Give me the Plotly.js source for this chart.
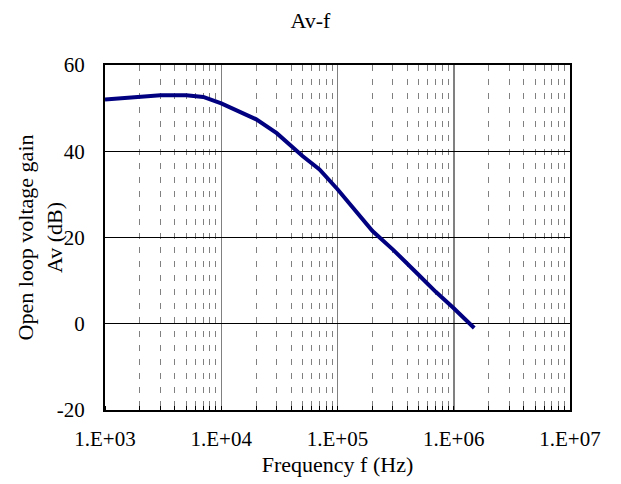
<!DOCTYPE html>
<html><head><meta charset="utf-8">
<script src="https://cdn.plot.ly/plotly-3.0.1.min.js"></script>
<style>body{margin:0;background:#fff}#c{width:621px;height:484px}</style>
</head><body><div id="c"></div>
<script>
const freq = [1e3, 3e3, 5e3, 7e3, 1e4, 2e4, 3e4, 5e4, 7e4, 1e5, 2e5, 3e5, 5e5, 7e5, 1e6, 1.5e6];
const gain = [52, 53, 53, 52.6, 51.1, 47.4, 44.2, 38.9, 35.8, 31.2, 21.5, 17.2, 11.3, 7.4, 3.6, -1.0];
const xTickVals = [1e3, 1e4, 1e5, 1e6, 1e7];
const xTickText = ['1.E+03', '1.E+04', '1.E+05', '1.E+06', '1.E+07'];
const yTickVals = [-20, 0, 20, 40, 60];
const yTickText = ['-20', '0', '20', '40', '60'];

const FF = 'Liberation Serif, Times New Roman, serif';
Plotly.newPlot('c', [{
  x: freq, y: gain, type: 'scatter', mode: 'lines',
  line: {color: '#000080', width: 4}
}], {
  width: 621, height: 484,
  margin: {l: 105, r: 51, t: 65, b: 74},
  paper_bgcolor: '#fff', plot_bgcolor: '#fff',
  showlegend: false,
  font: {family: FF, size: 21, color: '#000'},
  title: {text: 'Av-f', x: 0.5, xanchor: 'center', y: 0.958, yanchor: 'middle', font: {family: FF, size: 22, color: '#000'}},
  xaxis: {
    type: 'log', range: [3, 7], tickvals: xTickVals, ticktext: xTickText,
    showline: true, linecolor: '#000', linewidth: 2, mirror: true,
    showgrid: true, gridcolor: '#808080', gridwidth: 1.5,
    ticks: '', zeroline: false, ticklabelstandoff: 9,
    tickfont: {family: FF, size: 21, color: '#000'},
    minor: {dtick: 'D1', showgrid: true, gridcolor: '#808080', gridwidth: 1, griddash: '6px,8px', ticks: 'inside', ticklen: 4, tickcolor: '#000'},
    title: {text: 'Frequency f (Hz)', font: {family: FF, size: 22, color: '#000'}, standoff: 6}
  },
  yaxis: {
    range: [-20, 60], tickvals: yTickVals, ticktext: yTickText,
    showline: true, linecolor: '#000', linewidth: 2, mirror: true,
    showgrid: true, gridcolor: '#000', gridwidth: 1,
    ticks: '', zeroline: false,
    tickfont: {family: FF, size: 21, color: '#000'}, ticklabelstandoff: 14
  },
  annotations: [{
    text: 'Open loop voltage gain<br>Av (dB)', textangle: -90,
    xref: 'paper', yref: 'paper', x: -0.14, y: 0.5, xanchor: 'center', yanchor: 'middle',
    showarrow: false, font: {family: FF, size: 22, color: '#000'}
  }]
}, {displayModeBar: false, staticPlot: true});
</script></body></html>
